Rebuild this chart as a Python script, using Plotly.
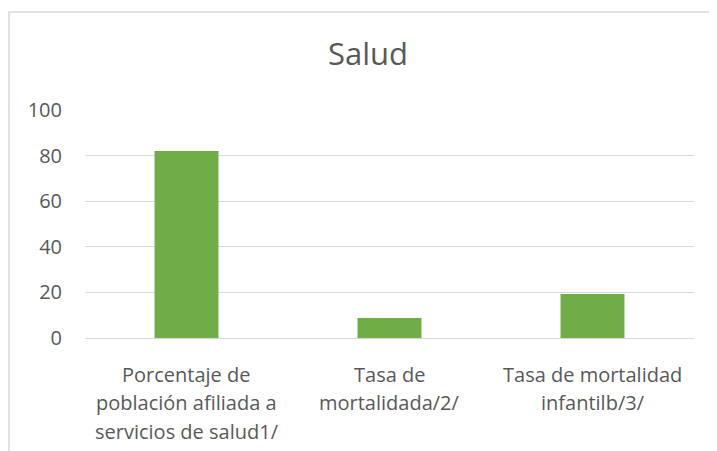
import plotly.graph_objects as go

categorias = [
    "Porcentaje de<br>población afiliada a<br>servicios de salud1/",
    "Tasa de<br>mortalidada/2/",
    "Tasa de mortalidad<br>infantilb/3/",
]
valores = [82.0, 8.8, 19.3]
ticks_y = [0, 20, 40, 60, 80, 100]

gris = "#595959"

# the page puts the figure 8px in from the top-left corner
W, H = 709, 443

fig = go.Figure()
fig.add_trace(go.Bar(
    x=categorias,
    y=valores,
    marker=dict(color="#70AD47", line=dict(width=0)),
))

# category labels as one annotation per line, Excel spaces lines wider than plotly does
for cat in categorias:
    for i, linea in enumerate(cat.split("<br>")):
        fig.add_annotation(x=cat, y=0, xref="x", yref="y", text=linea,
                           showarrow=False, xanchor="center", yanchor="middle",
                           yshift=-36 - 28.5 * i, font=dict(size=20, color=gris))

fig.update_layout(
    width=W, height=H,
    margin=dict(l=77, r=23, t=102, b=113),
    paper_bgcolor="white", plot_bgcolor="white",
    bargap=0.685,
    showlegend=False,
    font=dict(family="Open Sans", color=gris, size=20),
    title=dict(text="Salud", x=360 / W, xref="container", xanchor="center",
               y=1 - 46 / H, yref="container", yanchor="middle",
               font=dict(size=31, color=gris)),
    shapes=[dict(type="rect", xref="paper", yref="paper",
                 x0=-0.1248, x1=1.2, y0=-1.0, y1=1.43,
                 line=dict(color="#D9D9D9", width=1.5), layer="below")],
)
fig.update_xaxes(showgrid=False, showline=False, ticks="", showticklabels=False)
fig.update_yaxes(range=[0, 100], tickvals=ticks_y, showgrid=True, gridcolor="#D9D9D9",
                 gridwidth=1, zeroline=True, zerolinecolor="#D9D9D9", zerolinewidth=1,
                 showline=False, ticks="", ticklabelstandoff=22,
                 tickfont=dict(size=20, color=gris))

fig.write_html("out.html")
